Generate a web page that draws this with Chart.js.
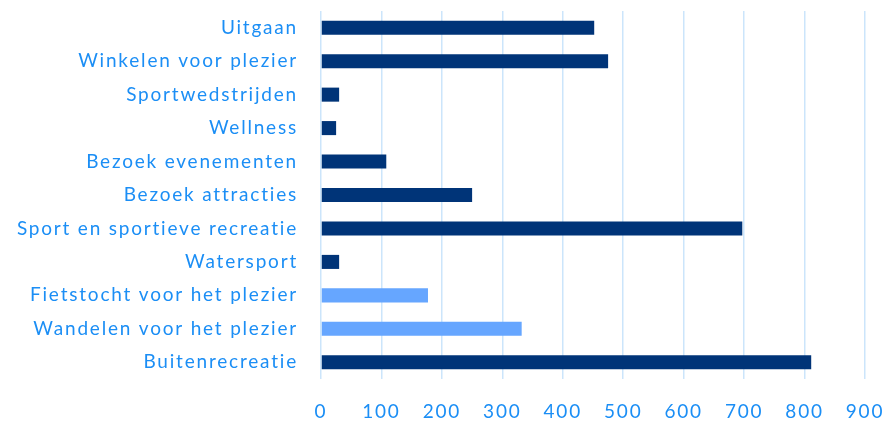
<!DOCTYPE html>
<html>
<head>
<meta charset="utf-8">
<script src="https://cdn.jsdelivr.net/npm/chart.js@4"></script>
<style>
  html, body { margin: 0; padding: 0; background: #fff; }
  #wrap { width: 890px; height: 422px; }
</style>
</head>
<body>
<div id="wrap"><canvas id="chart" width="890" height="422"></canvas></div>
<script>
const categories = [
  'Uitgaan',
  'Winkelen voor plezier',
  'Sportwedstrijden',
  'Wellness',
  'Bezoek evenementen',
  'Bezoek attracties',
  'Sport en sportieve recreatie',
  'Watersport',
  'Fietstocht voor het plezier',
  'Wandelen voor het plezier',
  'Buitenrecreatie'
];
const values = [452, 475, 30, 25, 108, 250, 697, 30, 177, 332, 811];
const highlighted = ['Fietstocht voor het plezier', 'Wandelen voor het plezier'];
const xTicks = [0, 100, 200, 300, 400, 500, 600, 700, 800, 900];

const dark = '#003478';
const light = '#66a6ff';
const textColor = '#1b8ef5';
const gridColor = '#cce5fb';

const barColors = categories.map(c => highlighted.includes(c) ? light : dark);

// wider text spacing, like the original font
const spacing = {
  id: 'spacing',
  beforeDraw(chart) { chart.ctx.letterSpacing = '1.8px'; }
};

const ctx = document.getElementById('chart').getContext('2d');
new Chart(ctx, {
  type: 'bar',
  data: {
    labels: categories,
    datasets: [{
      data: values,
      backgroundColor: barColors,
      categoryPercentage: 0.42,
      barPercentage: 1.0
    }]
  },
  options: {
    indexAxis: 'y',
    responsive: false,
    animation: false,
    layout: { padding: { top: 11, right: 25, left: 0, bottom: 0 } },
    plugins: { legend: { display: false }, tooltip: { enabled: false } },
    scales: {
      x: {
        min: 0,
        max: 900,
        afterBuildTicks: (scale) => { scale.ticks = xTicks.map(v => ({ value: v })); },
        afterFit: (scale) => {
          scale.height = 43;
          scale.paddingLeft = 0;
          scale.paddingRight = 0;
        },
        grid: { color: gridColor, lineWidth: 1.5, drawTicks: false },
        border: { display: false },
        ticks: {
          color: textColor,
          padding: 21,
          font: { family: 'Lato', size: 19 }
        }
      },
      y: {
        afterFit: (scale) => {
          scale.width = 321;
          scale.paddingTop = 0;
          scale.paddingBottom = 0;
        },
        grid: { display: false, drawTicks: false },
        border: { display: false },
        ticks: {
          color: textColor,
          padding: 23,
          font: { family: 'Lato', size: 19 }
        }
      }
    }
  },
  plugins: [spacing]
});
</script>
</body>
</html>
